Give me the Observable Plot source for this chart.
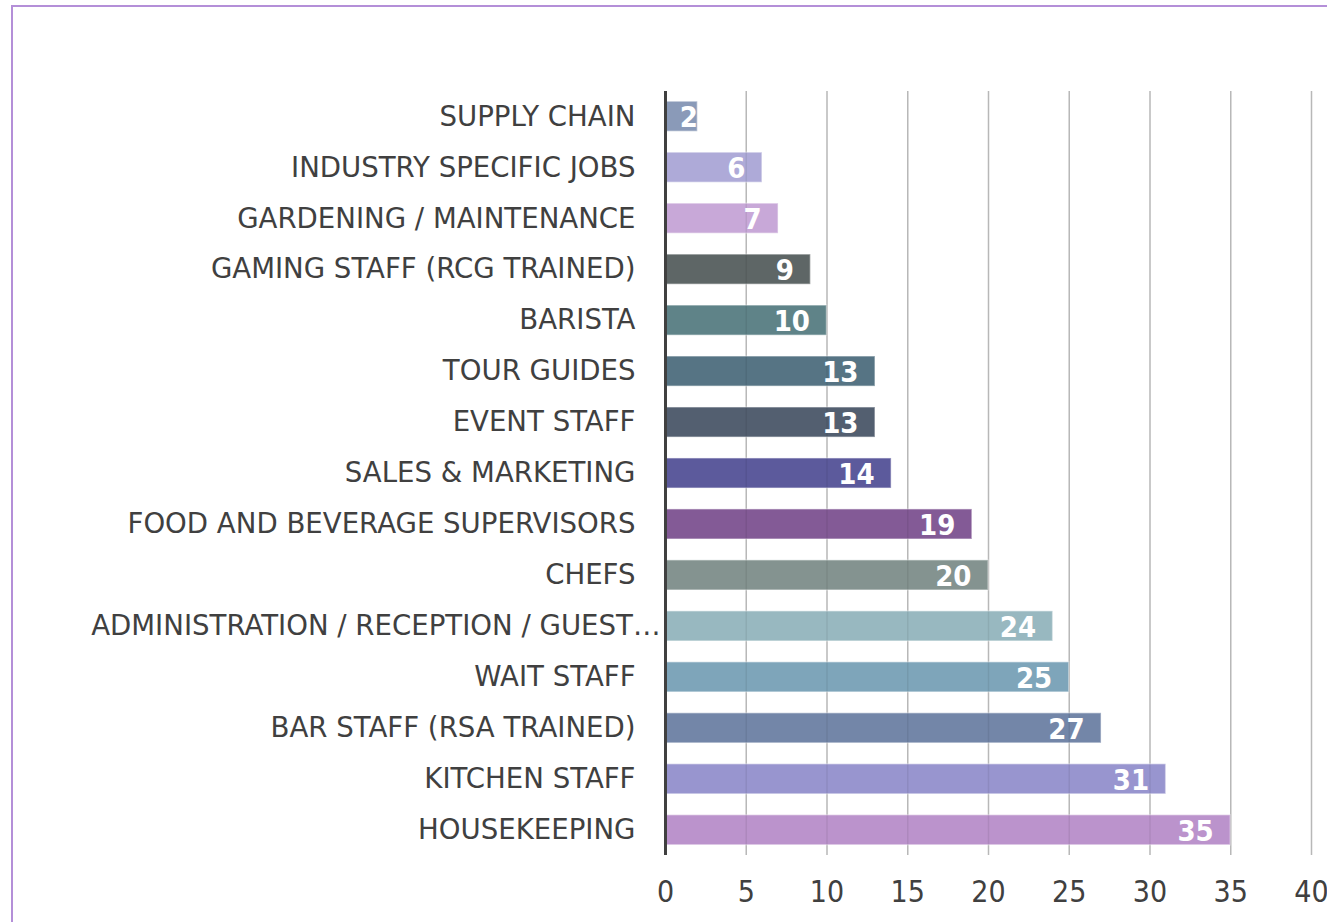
<!DOCTYPE html>
<html>
<head>
<meta charset="utf-8">
<script src="https://cdn.jsdelivr.net/npm/d3@7"></script>
<script src="https://cdn.jsdelivr.net/npm/@observablehq/plot@0.6"></script>
<style>
  html, body { margin: 0; padding: 0; background: #fff; overflow: hidden; }
  #frame { position: absolute; left: 11px; top: 5px; width: 1400px; height: 1000px; border: 2px solid #b48fd8; box-sizing: border-box; }
  #chart { position: absolute; left: 0; top: 0; }
  svg { font-family: "DejaVu Sans", sans-serif; }
</style>
</head>
<body>
<div id="frame"></div>
<div id="chart"></div>
<script>
const categories = [
  "SUPPLY CHAIN",
  "INDUSTRY SPECIFIC JOBS",
  "GARDENING / MAINTENANCE",
  "GAMING STAFF (RCG TRAINED)",
  "BARISTA",
  "TOUR GUIDES",
  "EVENT STAFF",
  "SALES & MARKETING",
  "FOOD AND BEVERAGE SUPERVISORS",
  "CHEFS",
  "ADMINISTRATION / RECEPTION / GUEST…",
  "WAIT STAFF",
  "BAR STAFF (RSA TRAINED)",
  "KITCHEN STAFF",
  "HOUSEKEEPING"
];
const values = [2, 6, 7, 9, 10, 13, 13, 14, 19, 20, 24, 25, 27, 31, 35];
const colors = [
  "#8a9ab8", "#aeaad8", "#c8a8d8", "#5e6666", "#5f8388",
  "#567484", "#535f70", "#5c5a9c", "#835a96", "#849390",
  "#98b8c0", "#7ea5ba", "#7386a8", "#9895cf", "#bb93cc"
];
const xTicks = [0, 5, 10, 15, 20, 25, 30, 35, 40];
const truncated = "ADMINISTRATION / RECEPTION / GUEST…";

const data = categories.map((c, i) => ({category: c, value: values[i], color: colors[i]}));

const chart = Plot.plot({
  width: 1327,
  height: 922,
  marginLeft: 665,
  marginRight: 16,
  marginTop: 91,
  marginBottom: 67,
  style: {background: "transparent", color: "#404040", overflow: "visible"},
  x: {domain: [0, 40], ticks: xTicks},
  y: {domain: categories, paddingInner: 0.41, paddingOuter: 0.2, round: false},
  marks: [
    Plot.gridX(xTicks.slice(1), {stroke: "#c6c6c6", strokeOpacity: 1, strokeWidth: 1.5}),
    Plot.barX(data, {
      x: "value", y: "category", fill: "color", fillOpacity: 1,
      stroke: "white", strokeOpacity: 0.4, strokeWidth: 1.5
    }),
    Plot.gridX(xTicks.slice(1), {stroke: "#000", strokeOpacity: 0.07, strokeWidth: 1.5}),
    Plot.text(data.filter(d => d.value >= 3), {
      x: "value", y: "category", text: d => String(d.value),
      textAnchor: "end", dx: -17, dy: 1, fill: "white",
      fontSize: 29, fontWeight: "bold", fontFamily: "DejaVu Sans Condensed, DejaVu Sans"
    }),
    Plot.text(data.filter(d => d.value < 3), {
      x: "value", y: "category", text: d => String(d.value),
      textAnchor: "end", dx: 0, dy: 1, fill: "white",
      fontSize: 29, fontWeight: "bold", fontFamily: "DejaVu Sans Condensed, DejaVu Sans"
    }),
    Plot.ruleX([0], {stroke: "#404040", strokeWidth: 3}),
    Plot.axisX(xTicks, {tickSize: 0, tickPadding: 25, fontSize: 30, fill: "#404040", label: null, fontFamily: "DejaVu Sans Condensed, DejaVu Sans"}),
    Plot.axisY(categories.filter(c => c !== truncated), {tickSize: 0, tickPadding: 30, fontSize: 27.6, fill: "#404040", label: null}),
    Plot.axisY([truncated], {tickSize: 0, tickPadding: 5, fontSize: 27.6, fill: "#404040", label: null})
  ]
});
document.getElementById("chart").append(chart);
</script>
</body>
</html>
